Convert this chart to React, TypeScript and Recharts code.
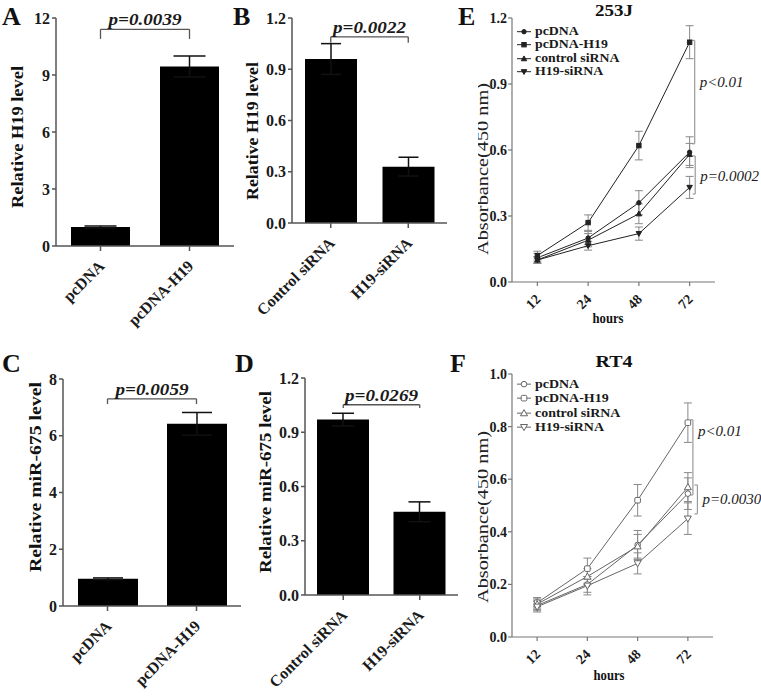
import React from "react";
import {
  BarChart,
  Bar,
  LineChart,
  Line,
  XAxis,
  YAxis,
  ErrorBar,
  ReferenceLine,
  Legend,
} from "recharts";

const FONT = '"Liberation Serif", "Times New Roman", Times, serif';
const AXIS = "#555";

// A - H19 after overexpression
const aGroups = ["pcDNA", "pcDNA-H19"];
const aMeans = [1.0, 9.45];
const aErrors = [0.05, 0.55];
const aTicks = [0, 3, 6, 9, 12];

// B - H19 after knockdown
const bGroups = ["Control siRNA", "H19-siRNA"];
const bMeans = [0.96, 0.33];
const bErrors = [0.09, 0.055];
const bTicks = [0, 0.3, 0.6, 0.9, 1.2];

// C - miR-675 after overexpression
const cGroups = ["pcDNA", "pcDNA-H19"];
const cMeans = [0.96, 6.42];
const cErrors = [0.03, 0.4];
const cTicks = [0, 2, 4, 6, 8];

// D - miR-675 after knockdown
const dGroups = ["Control siRNA", "H19-siRNA"];
const dMeans = [0.97, 0.46];
const dErrors = [0.035, 0.055];
const dTicks = [0, 0.3, 0.6, 0.9, 1.2];

// E / F - growth curves
const hours = ["12", "24", "48", "72"];
const seriesNames = ["pcDNA", "pcDNA-H19", "control siRNA", "H19-siRNA"];
const seriesShapes = ["circle", "square", "up", "down"];

const j253Pcdna = [0.11, 0.2, 0.36, 0.59];
const j253PcdnaSd = [0.02, 0.03, 0.055, 0.07];
const j253PcdnaH19 = [0.12, 0.27, 0.62, 1.09];
const j253PcdnaH19Sd = [0.02, 0.035, 0.065, 0.075];
const j253Control = [0.1, 0.19, 0.31, 0.58];
const j253ControlSd = [0.015, 0.03, 0.045, 0.05];
const j253Si = [0.1, 0.165, 0.22, 0.43];
const j253SiSd = [0.015, 0.02, 0.03, 0.05];
const eTicks = [0, 0.3, 0.6, 0.9, 1.2];

const rt4Pcdna = [0.12, 0.2, 0.35, 0.545];
const rt4PcdnaSd = [0.02, 0.03, 0.055, 0.06];
const rt4PcdnaH19 = [0.13, 0.26, 0.52, 0.815];
const rt4PcdnaH19Sd = [0.02, 0.04, 0.06, 0.075];
const rt4Control = [0.125, 0.23, 0.345, 0.57];
const rt4ControlSd = [0.02, 0.03, 0.045, 0.055];
const rt4Si = [0.115, 0.195, 0.28, 0.45];
const rt4SiSd = [0.02, 0.035, 0.04, 0.06];
const fTicks = [0, 0.2, 0.4, 0.6, 0.8, 1.0];

// significance brackets on the 72 h points
const eBrackets = [
  { x: 3.1, top: 1.098, bottom: 0.628, foot: 3.05, txt: "p<0.01", shift: -10 },
  { x: 3.11, top: 0.573, bottom: 0.4, foot: 3.06, txt: "p=0.0002", shift: 1 },
];
const fBrackets = [
  { x: 3.1, top: 0.826, bottom: 0.54, foot: 3.05, txt: "p<0.01", shift: -26 },
  { x: 3.19, top: 0.578, bottom: 0.468, foot: 3.13, txt: "p=0.0030", shift: 0 },
];

function SlantTick(props: any) {
  const { x, y, payload, fs, ox, oy, labels } = props;
  const tx = x + ox;
  const ty = y + oy;
  const text = labels ? labels[payload.value] : payload.value;
  return (
    <text
      x={tx}
      y={ty}
      transform={`rotate(-45 ${tx} ${ty})`}
      textAnchor="end"
      fontFamily={FONT}
      fontSize={fs}
      fontWeight="bold"
      fill="#1a1a1a"
    >
      {text}
    </text>
  );
}

function PText(props: any) {
  const { viewBox, side, txt, fs, len, bold, gap = 5, shift = 0 } = props;
  if (!viewBox) return null;
  const { x, y, width, height } = viewBox;
  const common = {
    fontFamily: FONT,
    fontSize: fs,
    fontStyle: "italic",
    fontWeight: bold ? "bold" : "normal",
    fill: "#1a1a1a",
  } as any;
  if (side === "top") {
    return (
      <text x={x + width / 2} y={y - 4} textAnchor="middle" textLength={len} lengthAdjust="spacingAndGlyphs" {...common}>
        {txt}
      </text>
    );
  }
  return (
    <text x={x + width + gap} y={y + height / 2 + shift} dominantBaseline="central" {...common}>
      {txt}
    </text>
  );
}

function Marker({ cx, cy, shape, r, filled, color }: any) {
  if (cx == null || cy == null) return null;
  const fill = filled ? color : "#fff";
  if (shape === "circle") return <circle cx={cx} cy={cy} r={r} fill={fill} stroke={color} strokeWidth={1} />;
  if (shape === "square")
    return <rect x={cx - r} y={cy - r} width={2 * r} height={2 * r} rx={filled ? 0 : 1.2} fill={fill} stroke={color} strokeWidth={1} />;
  const s = r * 1.25;
  const pts =
    shape === "up"
      ? `${cx},${cy - s} ${cx - s},${cy + s * 0.75} ${cx + s},${cy + s * 0.75}`
      : `${cx},${cy + s} ${cx - s},${cy - s * 0.75} ${cx + s},${cy - s * 0.75}`;
  return <polygon points={pts} fill={fill} stroke={color} strokeWidth={1} />;
}

function BarPanel(p: any) {
  const data = p.groups.map((g: string, i: number) => ({ group: g, mean: p.means[i], sd: p.errors[i] }));
  const [g0, g1] = p.groups;
  return (
    <BarChart width={p.width} height={p.height} data={data} margin={p.margin}>
      <XAxis
        dataKey="group"
        interval={0}
        height={p.xHeight}
        tickSize={5}
        tickMargin={2}
        stroke={AXIS}
        strokeWidth={1.5}
        tick={<SlantTick fs={16} ox={5} oy={14} />}
      />
      <YAxis
        width={p.yWidth}
        domain={[p.ticks[0], p.ticks[p.ticks.length - 1]]}
        ticks={p.ticks}
        interval={0}
        tickFormatter={p.fmt}
        tickSize={4}
        tickMargin={2}
        stroke={AXIS}
        strokeWidth={1.5}
        tick={{ fontFamily: FONT, fontSize: 16, fontWeight: "bold", fill: "#1a1a1a" }}
      />
      <Bar dataKey="mean" fill="#000" barSize={p.barSize} isAnimationActive={false}>
        <ErrorBar dataKey="sd" width={p.cap} stroke="#111" strokeWidth={1.5} direction="y" />
      </Bar>
      <ReferenceLine
        segment={[{ x: g0, y: p.pTop }, { x: g1, y: p.pTop }]}
        stroke={AXIS}
        strokeWidth={1.3}
        label={<PText side="top" txt={p.pText} fs={17} len={73} bold />}
      />
      <ReferenceLine segment={[{ x: g0, y: p.pTop }, { x: g0, y: p.pFoot }]} stroke={AXIS} strokeWidth={1.3} />
      <ReferenceLine segment={[{ x: g1, y: p.pTop }, { x: g1, y: p.pFoot }]} stroke={AXIS} strokeWidth={1.3} />
    </BarChart>
  );
}

function LinePanel(p: any) {
  const data = hours.map((h, i) => {
    const row: any = { idx: i, label: h };
    p.series.forEach((s: any) => {
      row[s.key] = s.mean[i];
      row[s.key + "Sd"] = s.sd[i];
    });
    return row;
  });
  const legend = () => (
    <div style={{ fontFamily: FONT, fontWeight: "bold", fontSize: p.legendFs, color: "#1a1a1a" }}>
      {seriesNames.map((n, i) => (
        <div key={n} style={{ display: "flex", alignItems: "center", height: p.rowH, overflow: "visible" }}>
          <svg width={14} height={p.rowH} style={{ display: "block" }}>
            <line x1={0} x2={14} y1={p.rowH / 2} y2={p.rowH / 2} stroke={p.color} strokeWidth={1} />
            <Marker cx={7} cy={p.rowH / 2} shape={seriesShapes[i]} r={p.r} filled={p.filled} color={p.color} />
          </svg>
          <span
            style={{
              display: "inline-block",
              marginLeft: 4,
              whiteSpace: "nowrap",
              lineHeight: `${p.rowH}px`,
              transform: `scaleX(${p.legendStretch})`,
              transformOrigin: "left center",
            }}
          >
            {n}
          </span>
        </div>
      ))}
    </div>
  );
  return (
    <LineChart width={p.width} height={p.height} data={data} margin={p.margin}>
      <XAxis
        type="number"
        dataKey="idx"
        domain={[-0.5, 3.5]}
        ticks={[0, 1, 2, 3]}
        interval={0}
        height={p.xHeight}
        tickSize={4}
        tickMargin={2}
        stroke="#777"
        strokeWidth={1.2}
        tick={<SlantTick fs={14} ox={4} oy={12} labels={hours} />}
      />
      <YAxis
        width={32}
        domain={[p.ticks[0], p.ticks[p.ticks.length - 1]]}
        ticks={p.ticks}
        interval={0}
        tickFormatter={(v: number) => v.toFixed(1)}
        tickSize={4}
        tickMargin={1}
        stroke="#777"
        strokeWidth={1.2}
        tick={{ fontFamily: FONT, fontSize: 14, fontWeight: "bold", fill: "#1a1a1a" }}
      />
      <Legend
        layout="vertical"
        align="center"
        verticalAlign="middle"
        content={legend}
        wrapperStyle={{ left: 37, top: p.legendTop, width: "auto", height: "auto" }}
      />
      {p.series.map((s: any, si: number) => (
        <Line
          key={s.key}
          dataKey={s.key}
          name={s.name}
          stroke={p.color}
          strokeWidth={1}
          isAnimationActive={false}
          dot={(d: any) => (
            <Marker key={`${s.key}-${d.index}`} cx={d.cx} cy={d.cy} shape={seriesShapes[si]} r={p.r} filled={p.filled} color={p.color} />
          )}
          activeDot={false}
        >
          <ErrorBar dataKey={s.key + "Sd"} width={4} stroke="#888" strokeWidth={1} direction="y" />
        </Line>
      ))}
      {p.brackets.map((b: any) => (
        <ReferenceLine
          key={b.txt + b.x}
          segment={[{ x: b.x, y: b.top }, { x: b.x, y: b.bottom }]}
          stroke="#999"
          strokeWidth={1.2}
          label={<PText side="right" txt={b.txt} fs={15} gap={5} shift={b.shift} />}
        />
      ))}
      {p.brackets.map((b: any) => (
        <ReferenceLine key={"t" + b.txt} segment={[{ x: b.foot, y: b.top }, { x: b.x, y: b.top }]} stroke="#999" strokeWidth={1.2} />
      ))}
      {p.brackets.map((b: any) => (
        <ReferenceLine key={"b" + b.txt} segment={[{ x: b.foot, y: b.bottom }, { x: b.x, y: b.bottom }]} stroke="#999" strokeWidth={1.2} />
      ))}
    </LineChart>
  );
}

const eSeries = [
  { key: "pcdna", name: seriesNames[0], mean: j253Pcdna, sd: j253PcdnaSd },
  { key: "pcdnaH19", name: seriesNames[1], mean: j253PcdnaH19, sd: j253PcdnaH19Sd },
  { key: "control", name: seriesNames[2], mean: j253Control, sd: j253ControlSd },
  { key: "si", name: seriesNames[3], mean: j253Si, sd: j253SiSd },
];
const fSeries = [
  { key: "pcdna", name: seriesNames[0], mean: rt4Pcdna, sd: rt4PcdnaSd },
  { key: "pcdnaH19", name: seriesNames[1], mean: rt4PcdnaH19, sd: rt4PcdnaH19Sd },
  { key: "control", name: seriesNames[2], mean: rt4Control, sd: rt4ControlSd },
  { key: "si", name: seriesNames[3], mean: rt4Si, sd: rt4SiSd },
];

const int = (v: number) => String(v);
const one = (v: number) => v.toFixed(1);

export default function App() {
  const letter = { fontFamily: FONT, fontSize: 26, fontWeight: "bold", fill: "#111" } as any;
  const ytitle = { fontFamily: FONT, fontSize: 16, fontWeight: "bold", fill: "#111", textAnchor: "middle" } as any;
  const small = { fontFamily: FONT, fontWeight: "bold", fill: "#111", textAnchor: "middle" } as any;
  return (
    <div style={{ position: "absolute", left: 0, top: 0, width: 761, height: 697, background: "#fff", overflow: "hidden" }}>
      <div style={{ position: "absolute", left: 0, top: 0 }}>
        <BarPanel
          width={240} height={330} margin={{ top: 18, right: 6, left: 0, bottom: 0 }} yWidth={56} xHeight={84}
          groups={aGroups} means={aMeans} errors={aErrors} ticks={aTicks} fmt={int}
          barSize={59} cap={16} pTop={11.4} pFoot={10.9} pText="p=0.0039"
        />
      </div>
      <div style={{ position: "absolute", left: 240, top: 0 }}>
        <BarPanel
          width={240} height={330} margin={{ top: 18, right: 33, left: 0, bottom: 0 }} yWidth={52} xHeight={107}
          groups={bGroups} means={bMeans} errors={bErrors} ticks={bTicks} fmt={one}
          barSize={52} cap={10} pTop={1.09} pFoot={1.055} pText="p=0.0022"
        />
      </div>
      <div style={{ position: "absolute", left: 0, top: 340 }}>
        <BarPanel
          width={245} height={357} margin={{ top: 39, right: 4, left: 0, bottom: 0 }} yWidth={63} xHeight={91}
          groups={cGroups} means={cMeans} errors={cErrors} ticks={cTicks} fmt={int}
          barSize={60} cap={15} pTop={7.3} pFoot={7.12} pText="p=0.0059"
        />
      </div>
      <div style={{ position: "absolute", left: 240, top: 340 }}>
        <BarPanel
          width={240} height={357} margin={{ top: 38, right: 22, left: 0, bottom: 0 }} yWidth={65} xHeight={102}
          groups={dGroups} means={dMeans} errors={dErrors} ticks={dTicks} fmt={one}
          barSize={52} cap={11} pTop={1.052} pFoot={1.034} pText="p=0.0269"
        />
      </div>
      <div style={{ position: "absolute", left: 480, top: 0 }}>
        <LinePanel
          width={281} height={330} margin={{ top: 18, right: 46, left: 0, bottom: 0 }} xHeight={48}
          ticks={eTicks} series={eSeries} brackets={eBrackets}
          color="#222" filled r={2.2} rowH={13.4} legendTop={25} legendFs={12} legendStretch={1.15}
        />
      </div>
      <div style={{ position: "absolute", left: 480, top: 340 }}>
        <LinePanel
          width={281} height={357} margin={{ top: 34, right: 48, left: 0, bottom: 0 }} xHeight={60}
          ticks={fTicks} series={fSeries} brackets={fBrackets}
          color="#666" filled={false} r={2.8} rowH={14.3} legendTop={37} legendFs={12.8} legendStretch={1.09}
        />
      </div>
      <svg width={761} height={697} style={{ position: "absolute", left: 0, top: 0, pointerEvents: "none" }}>
        <defs>
          <clipPath id="rightcol">
            <rect x={478} y={0} width={283} height={697} />
          </clipPath>
        </defs>
        <text x={2} y={25} {...letter}>A</text>
        <text x={233} y={25} {...letter}>B</text>
        <text x={458} y={25} {...letter}>E</text>
        <text x={2} y={372} {...letter}>C</text>
        <text x={235} y={372} {...letter}>D</text>
        <text x={450} y={372} {...letter}>F</text>

        <text transform="translate(23 137) rotate(-90)" textLength={142} lengthAdjust="spacingAndGlyphs" {...ytitle}>Relative H19 level</text>
        <text transform="translate(258 131) rotate(-90)" textLength={138} lengthAdjust="spacingAndGlyphs" {...ytitle}>Relative H19 level</text>
        <text transform="translate(41 477) rotate(-90)" textLength={190} lengthAdjust="spacingAndGlyphs" {...ytitle}>Relative miR-675 level</text>
        <text transform="translate(271 482) rotate(-90)" textLength={182} lengthAdjust="spacingAndGlyphs" {...ytitle}>Relative miR-675 level</text>

        <g clipPath="url(#rightcol)">
          <text transform="translate(488 169) rotate(-90)" textLength={172} lengthAdjust="spacingAndGlyphs" fontFamily={FONT} fontSize={17} fill="#222" textAnchor="middle">Absorbance(450 nm)</text>
          <text transform="translate(488 517) rotate(-90)" textLength={172} lengthAdjust="spacingAndGlyphs" fontFamily={FONT} fontSize={17} fill="#222" textAnchor="middle">Absorbance(450 nm)</text>
        </g>

        <text x={614} y={16} fontSize={17} textLength={38} lengthAdjust="spacingAndGlyphs" {...small}>253J</text>
        <text x={614} y={367} fontSize={17} textLength={37} lengthAdjust="spacingAndGlyphs" {...small}>RT4</text>
        <text x={608} y={323} fontSize={14} textLength={31} lengthAdjust="spacingAndGlyphs" {...small}>hours</text>
        <text x={609} y={680} fontSize={14} textLength={31} lengthAdjust="spacingAndGlyphs" {...small}>hours</text>
      </svg>
    </div>
  );
}
